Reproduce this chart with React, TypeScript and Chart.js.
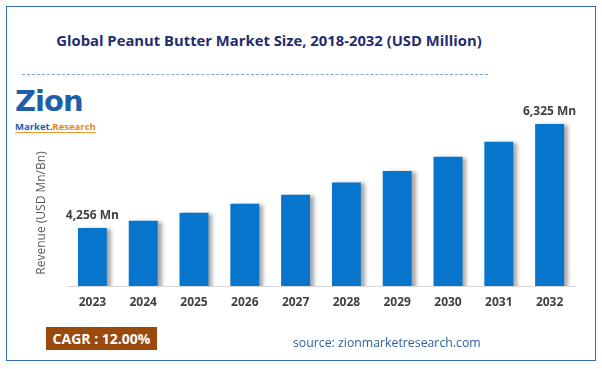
import React, { useEffect, useRef } from "react";
import { Chart, registerables } from "chart.js";

Chart.register(...registerables);

const categories = ["2023", "2024", "2025", "2026", "2027", "2028", "2029", "2030", "2031", "2032"];
const revenue = [4256, 4400, 4555, 4735, 4915, 5160, 5390, 5670, 5970, 6325];
const labelledIndexes = [0, 9];
const labelTexts = ["4,256 Mn", "6,325 Mn"];
const yMin = 3100;
const yMax = 6800;

const FONT = "'Open Sans', 'Noto Sans', sans-serif";

const shadowPlugin = {
  id: "barShadow",
  beforeDatasetsDraw(chart: any) {
    const ctx = chart.ctx;
    ctx.save();
    ctx.shadowColor = "rgba(0,0,0,0.35)";
    ctx.shadowOffsetX = 4;
    ctx.shadowOffsetY = 1;
    ctx.shadowBlur = 4;
  },
  afterDatasetsDraw(chart: any) {
    chart.ctx.restore();
  },
};

const labelsPlugin = {
  id: "extraLabels",
  afterDraw(chart: any) {
    const ctx = chart.ctx;
    const meta = chart.getDatasetMeta(0);
    ctx.save();
    ctx.font = `bold 12px ${FONT}`;
    ctx.fillStyle = "#404040";
    ctx.textAlign = "center";
    ctx.textBaseline = "bottom";
    labelledIndexes.forEach((idx, i) => {
      const el = meta.data[idx];
      ctx.fillText(labelTexts[i], el.x, el.y - 6);
    });
    ctx.translate(42, 213);
    ctx.rotate(-Math.PI / 2);
    ctx.font = `12px ${FONT}`;
    ctx.fillStyle = "#595959";
    ctx.textBaseline = "middle";
    ctx.fillText("Revenue (USD Mn/Bn)", 0, 0);
    ctx.restore();
  },
};

export default function App() {
  const ref = useRef<HTMLCanvasElement>(null);
  useEffect(() => {
    if (!ref.current) return;
    const chart = new Chart(ref.current, {
      type: "bar",
      data: {
        labels: categories,
        datasets: [
          {
            data: revenue,
            backgroundColor: "#0775cb",
            barPercentage: 0.57,
            categoryPercentage: 1,
          },
        ],
      },
      options: {
        animation: false,
        responsive: false,
        layout: { padding: { left: 67, right: 27, top: 100, bottom: 53 } },
        plugins: { legend: { display: false }, tooltip: { enabled: false } },
        scales: {
          x: {
            grid: { display: false },
            border: { display: true, color: "#d9d9d9", width: 1 },
            ticks: { color: "#404040", font: { family: FONT, size: 12, weight: "bold" }, padding: 1 },
            afterFit: (s: any) => {
              s.height = 30;
            },
          },
          y: { display: false, min: yMin, max: yMax },
        },
      },
      plugins: [shadowPlugin, labelsPlugin],
    });
    return () => chart.destroy();
  }, []);

  return (
    <div style={{ position: "absolute", left: 0, top: 0, width: 602, height: 369, background: "#fff", fontFamily: FONT }}>
      <div style={{ position: "absolute", left: 6, top: 6, width: 590, height: 355, border: "1.5px solid #2f6fb6", boxSizing: "border-box" }} />
      <div style={{ position: "absolute", left: 0, top: 30, width: 538, textAlign: "center", fontWeight: "bold", fontSize: 14.8, color: "#1f2d6e", whiteSpace: "nowrap" }}>
        Global Peanut Butter Market Size, 2018-2032 (USD Million)
      </div>
      <div style={{ position: "absolute", left: 22, top: 74, width: 466, borderTop: "1px dashed #7ea6d8" }} />
      <div style={{ position: "absolute", left: 15, top: 87, width: 80, lineHeight: 1 }}>
        <div style={{ fontSize: 29, fontWeight: 900, color: "#1d5fa8", letterSpacing: -1, fontFamily: "'DejaVu Sans', sans-serif" }}>
          Zion
        </div>
        <div style={{ fontSize: 9.5, fontWeight: "bold", marginTop: -3, whiteSpace: "nowrap", borderBottom: "1px solid #f29a2e", display: "inline-block" }}>
          <span style={{ color: "#1d5fa8" }}>Market.</span>
          <span style={{ color: "#e8871e" }}>Research</span>
        </div>
      </div>
      <canvas ref={ref} width={602} height={369} style={{ position: "absolute", left: 0, top: 0 }} />
      <div style={{ position: "absolute", left: 46, top: 327, width: 111, height: 23, background: "#9a4a0b", color: "#fff", fontWeight: "bold", fontSize: 14, lineHeight: "23px", textAlign: "center", whiteSpace: "nowrap" }}>
        CAGR : 12.00%
      </div>
      <div style={{ position: "absolute", left: 293, top: 334, fontSize: 12.3, color: "#2d5f9e", whiteSpace: "nowrap" }}>
        source: zionmarketresearch.com
      </div>
    </div>
  );
}
